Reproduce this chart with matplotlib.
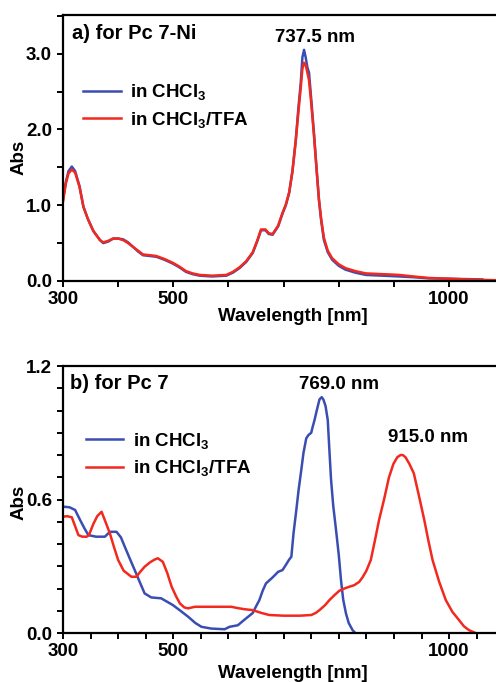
import matplotlib
matplotlib.use("Agg")
import matplotlib.pyplot as plt
from matplotlib.ticker import MultipleLocator, FixedLocator

plt.rcParams['font.family'] = ['Liberation Sans', 'DejaVu Sans']
plt.rcParams['font.weight'] = 'bold'
plt.rcParams['mathtext.fontset'] = 'custom'
plt.rcParams['mathtext.rm'] = 'Liberation Sans:bold'
plt.rcParams['mathtext.bf'] = 'Liberation Sans:bold'
plt.rcParams['mathtext.it'] = 'Liberation Sans:bold'

BLUE = '#3a4db2'
RED = '#f2291e'
FS = 13.5

# a) Pc 7-Ni, in CHCl3
a_blue_nm = [300, 305, 310, 316, 322, 330, 337, 345, 355, 367, 373, 382, 391, 400, 409,
             418, 427, 436, 445, 457, 469, 484, 499, 511, 523, 535, 548, 570, 596, 608,
             620, 632, 644, 652, 659, 667, 673, 680, 690, 698, 704, 710, 716, 722, 727,
             731, 734, 737, 740, 743, 746, 750, 755, 760, 764, 768, 773, 780, 788, 800,
             812, 830, 849, 880, 909, 935, 963, 1000, 1030, 1060]
a_blue_abs = [1.07, 1.30, 1.45, 1.51, 1.45, 1.25, 0.98, 0.82, 0.66, 0.54, 0.50, 0.52, 0.56, 0.56, 0.55,
              0.51, 0.45, 0.39, 0.34, 0.33, 0.32, 0.28, 0.23, 0.18, 0.12, 0.09, 0.07, 0.06, 0.07, 0.11,
              0.17, 0.25, 0.37, 0.52, 0.67, 0.67, 0.62, 0.61, 0.72, 0.89, 1.00, 1.16, 1.45, 1.86, 2.30,
              2.61, 2.95, 3.05, 2.95, 2.82, 2.75, 2.40, 1.95, 1.45, 1.07, 0.80, 0.54, 0.38, 0.28, 0.20,
              0.15, 0.11, 0.08, 0.07, 0.06, 0.05, 0.035, 0.03, 0.025, 0.02]

# a) Pc 7-Ni, in CHCl3/TFA
a_red_nm = a_blue_nm + [1085]
a_red_abs = [1.05, 1.28, 1.42, 1.47, 1.43, 1.24, 0.98, 0.82, 0.66, 0.54, 0.51, 0.53, 0.56, 0.56, 0.54,
             0.50, 0.45, 0.40, 0.35, 0.34, 0.33, 0.29, 0.24, 0.19, 0.13, 0.10, 0.08, 0.07, 0.08, 0.12,
             0.18, 0.26, 0.38, 0.53, 0.68, 0.68, 0.63, 0.62, 0.73, 0.90, 1.01, 1.17, 1.45, 1.85, 2.25,
             2.55, 2.80, 2.88, 2.85, 2.75, 2.65, 2.35, 1.92, 1.45, 1.08, 0.82, 0.57, 0.40, 0.30, 0.22,
             0.17, 0.13, 0.10, 0.09, 0.08, 0.06, 0.04, 0.03, 0.02, 0.015, 0.01]

# b) Pc 7, in CHCl3
b_blue_nm = [300, 312, 322, 331, 339, 346, 360, 376, 385, 397, 405, 412, 421, 430, 439,
             448, 460, 478, 499, 513, 527, 540, 551, 569, 593, 602, 617, 629, 644, 650,
             656, 662, 668, 680, 690, 698, 705, 710, 714, 718, 723, 727, 732, 736, 741,
             745, 750, 753, 756, 760, 765, 769, 772, 776, 780, 783, 786, 790, 795, 800,
             804, 808, 813, 818, 825, 830]
b_blue_abs = [0.568, 0.565, 0.553, 0.508, 0.47, 0.44, 0.433, 0.433, 0.455, 0.455, 0.43, 0.388, 0.335, 0.283, 0.23,
              0.178, 0.16, 0.156, 0.126, 0.10, 0.073, 0.045, 0.028, 0.02, 0.017, 0.028, 0.035, 0.06, 0.09, 0.12,
              0.148, 0.19, 0.223, 0.25, 0.275, 0.283, 0.31, 0.33, 0.343, 0.45, 0.553, 0.64, 0.733, 0.81, 0.875,
              0.89, 0.90, 0.93, 0.957, 1.00, 1.05, 1.06, 1.05, 1.02, 0.957, 0.82, 0.688, 0.57, 0.463, 0.35,
              0.238, 0.15, 0.088, 0.045, 0.013, 0.0]

# b) Pc 7, in CHCl3/TFA
b_red_nm = [300, 308, 316, 322, 328, 335, 343, 347, 355, 362, 370, 377, 385, 392, 400,
            410, 424, 433, 440, 448, 458, 466, 472, 481, 489, 497, 505, 512, 520, 527,
            539, 560, 590, 605, 617, 629, 644, 660, 674, 700, 730, 750, 758, 765, 775,
            783, 792, 801, 810, 819, 828, 837, 843, 850, 858, 865, 873, 882, 891, 899,
            906, 912, 916, 921, 928, 936, 945, 955, 962, 970, 982, 994, 1006, 1018, 1027,
            1036, 1048]
b_red_abs = [0.523, 0.525, 0.52, 0.48, 0.440, 0.433, 0.433, 0.44, 0.49, 0.525, 0.545, 0.50, 0.448, 0.39, 0.328,
             0.28, 0.253, 0.253, 0.275, 0.298, 0.318, 0.33, 0.336, 0.32, 0.27, 0.208, 0.165, 0.133, 0.115, 0.111,
             0.118, 0.118, 0.118, 0.118, 0.112, 0.107, 0.103, 0.09, 0.081, 0.078, 0.078, 0.081, 0.09, 0.103, 0.125,
             0.148, 0.17, 0.19, 0.20, 0.208, 0.215, 0.23, 0.25, 0.28, 0.328, 0.41, 0.508, 0.60, 0.70, 0.76,
             0.79, 0.80, 0.80, 0.79, 0.76, 0.718, 0.62, 0.508, 0.42, 0.328, 0.23, 0.148, 0.095, 0.058, 0.03,
             0.013, 0.0]

x_major = [300, 500, 1000]
label_blue = r'in CHCl$_3$'
label_red = r'in CHCl$_3$/TFA'


def style_axis(ax, ymax, y_major, y_minor, x_minor, ylabels, xlab_y, ylab_y):
    ax.set_xlim(300, 1085)
    ax.set_ylim(0, ymax)
    ax.spines['right'].set_visible(False)
    for s in ['top', 'left', 'bottom']:
        ax.spines[s].set_linewidth(1.6)
    ax.xaxis.set_major_locator(FixedLocator(x_major))
    ax.xaxis.set_minor_locator(MultipleLocator(x_minor))
    ax.yaxis.set_major_locator(FixedLocator(y_major))
    ax.yaxis.set_minor_locator(MultipleLocator(y_minor))
    ax.set_yticklabels(ylabels)
    ax.tick_params(which='both', direction='out', width=1.4, length=4, labelsize=FS)
    ax.tick_params(axis='x', pad=3)
    ax.tick_params(axis='y', pad=4)
    ax.set_xlabel('Wavelength [nm]', fontsize=FS, fontweight='bold')
    ax.set_ylabel('Abs', fontsize=FS, fontweight='bold')
    ax.xaxis.set_label_coords(0.53, xlab_y)
    ax.yaxis.set_label_coords(-0.083, ylab_y)


fig = plt.figure(figsize=(4.96, 6.82), dpi=100)
ax1 = fig.add_axes([0.127, 0.588, 0.873, 0.390])
ax2 = fig.add_axes([0.127, 0.0718, 0.873, 0.3915])

# panel a
ax1.plot(a_blue_nm, a_blue_abs, color=BLUE, lw=1.8, label=label_blue)
ax1.plot(a_red_nm, a_red_abs, color=RED, lw=1.8, label=label_red)
style_axis(ax1, 3.51, [0, 1, 2, 3], 0.5, 100, ['0.0', '1.0', '2.0', '3.0'], -0.1, 0.466)
ax1.text(0.021, 0.93, 'a) for Pc 7-Ni', transform=ax1.transAxes, fontsize=14.5,
         fontweight='bold', va='center', ha='left')
ax1.text(756, 3.21, '737.5 nm', fontsize=FS, fontweight='bold', ha='center', va='center')
ax1.legend(loc='upper left', bbox_to_anchor=(0.03, 0.775), frameon=False, fontsize=FS,
           handlelength=2.0, handletextpad=0.5, labelspacing=0.4, borderaxespad=0)

# panel b
ax2.plot(b_blue_nm, b_blue_abs, color=BLUE, lw=1.8, label=label_blue)
ax2.plot(b_red_nm, b_red_abs, color=RED, lw=1.8, label=label_red)
style_axis(ax2, 1.2, [0, 0.6, 1.2], 0.1, 50, ['0.0', '0.6', '1.2'], -0.12, 0.49)
ax2.text(0.017, 0.935, 'b) for Pc 7', transform=ax2.transAxes, fontsize=14.5,
         fontweight='bold', va='center', ha='left')
ax2.text(801, 1.115, '769.0 nm', fontsize=FS, fontweight='bold', ha='center', va='center')
ax2.text(962, 0.88, '915.0 nm', fontsize=FS, fontweight='bold', ha='center', va='center')
ax2.legend(loc='upper left', bbox_to_anchor=(0.035, 0.785), frameon=False, fontsize=FS,
           handlelength=2.0, handletextpad=0.5, labelspacing=0.4, borderaxespad=0)

fig.savefig('out.png', dpi=100)
